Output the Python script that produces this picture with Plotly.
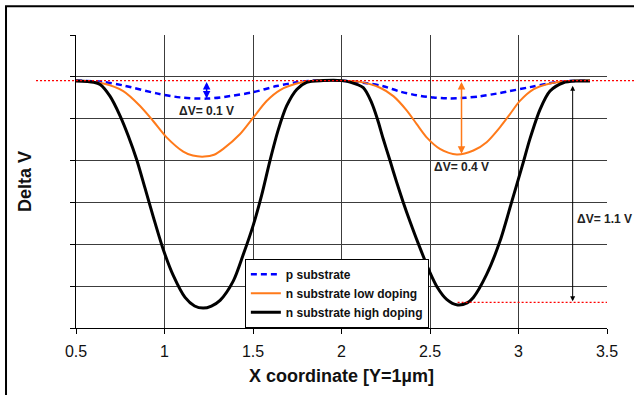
import plotly.graph_objects as go

# ---------------- data ----------------
x_p = [0.50, 0.654, 0.767, 0.956, 1.088, 1.238, 1.370, 1.502, 1.634, 1.747, 1.840,
       1.990, 2.142, 2.236, 2.330, 2.425, 2.520, 2.613, 2.700, 2.782, 2.876, 2.933,
       3.065, 3.159, 3.250, 3.385]
y_p = [-0.018, -0.024, -0.041, -0.079, -0.098, -0.104, -0.092, -0.073, -0.044, -0.026, -0.018,
       -0.018, -0.030, -0.045, -0.070, -0.088, -0.099, -0.103, -0.100, -0.093, -0.080, -0.071,
       -0.049, -0.033, -0.022, -0.018]

x_low = [0.50, 0.654, 0.767, 0.862, 0.937, 1.012, 1.106, 1.160, 1.225, 1.280, 1.332, 1.427,
         1.502, 1.577, 1.653, 1.747, 1.860, 1.990, 2.105, 2.218, 2.293, 2.368, 2.425, 2.481,
         2.556, 2.651, 2.745, 2.820, 2.895, 2.952, 3.008, 3.084, 3.178, 3.272, 3.404]
y_low = [-0.018, -0.032, -0.068, -0.139, -0.212, -0.289, -0.357, -0.376, -0.381, -0.372, -0.344, -0.273,
         -0.194, -0.115, -0.063, -0.032, -0.018, -0.018, -0.024, -0.052, -0.092, -0.160, -0.226, -0.289,
         -0.344, -0.371, -0.352, -0.312, -0.241, -0.178, -0.115, -0.060, -0.032, -0.021, -0.018]

x_high = [0.50, 0.60, 0.636, 0.692, 0.749, 0.795, 0.843, 0.890, 0.937, 0.993, 1.050, 1.116,
          1.170, 1.219, 1.265, 1.314, 1.389, 1.445, 1.502, 1.549, 1.596, 1.643, 1.690, 1.747,
          1.803, 1.897, 2.000, 2.048, 2.123, 2.170, 2.202, 2.236, 2.274, 2.311, 2.349, 2.387,
          2.434, 2.500, 2.541, 2.594, 2.656, 2.710, 2.745, 2.820, 2.895, 2.962, 3.022, 3.065,
          3.122, 3.178, 3.253, 3.329, 3.404]
y_high = [-0.020, -0.026, -0.036, -0.092, -0.186, -0.281, -0.396, -0.532, -0.670, -0.825, -0.950, -1.054,
          -1.095, -1.105, -1.095, -1.068, -0.975, -0.849, -0.707, -0.565, -0.400, -0.252, -0.139, -0.060,
          -0.026, -0.018, -0.018, -0.025, -0.052, -0.123, -0.199, -0.297, -0.400, -0.502, -0.600, -0.691,
          -0.797, -0.935, -1.005, -1.063, -1.090, -1.080, -1.054, -0.944, -0.786, -0.596, -0.423, -0.295,
          -0.155, -0.068, -0.028, -0.020, -0.020]

names = ["p substrate", "n substrate low doping", "n substrate high doping"]
x_ticks = [0.5, 1, 1.5, 2, 2.5, 3, 3.5]
x_ticklabels = ["0.5", "1", "1.5", "2", "2.5", "3", "3.5"]

baseline = -0.018          # plateau level (top red dotted line)
high_min = -1.078          # level of lower red dotted line
high_min_x = 2.656

# delta-V markers: (x, top, bottom, label)
dv_p = (1.238, -0.018, -0.104, "ΔV= 0.1 V")
dv_low = (2.678, -0.018, -0.368, "ΔV= 0.4 V")
dv_high = (3.306, -0.035, -1.072, "ΔV= 1.1 V")

FONT = "Liberation Sans, Arial, sans-serif"
BLUE = "#0000FF"
ORANGE = "#FF7A1A"
BLACK = "#000000"
GRID = "#3c3c3c"

fig = go.Figure()
fig.add_trace(go.Scatter(x=x_p, y=y_p, name=names[0], mode="lines",
                         line=dict(color=BLUE, width=2.5, dash="6px,4px", shape="spline", smoothing=0.8)))
fig.add_trace(go.Scatter(x=x_low, y=y_low, name=names[1], mode="lines",
                         line=dict(color=ORANGE, width=2, shape="spline", smoothing=0.8)))
fig.add_trace(go.Scatter(x=x_high, y=y_high, name=names[2], mode="lines",
                         line=dict(color=BLACK, width=3, shape="spline", smoothing=0.8)))

# reference lines
fig.add_shape(type="line", xref="paper", yref="y", x0=-0.0753, x1=1.06, y0=baseline, y1=baseline,
              line=dict(color="red", width=1.2, dash="2px,2px"))
fig.add_shape(type="line", xref="x", yref="y", x0=high_min_x, x1=3.5, y0=high_min, y1=high_min,
              line=dict(color="red", width=1.2, dash="2px,2px"))

# outer frame
fig.add_shape(type="rect", xref="paper", yref="paper", x0=-0.1318, x1=1.3, y0=-0.4, y1=1.0983,
              line=dict(color="black", width=2), layer="above")

annos = []
for (xv, top, bot, label), col, w in [
        (dv_p, BLUE, 1.5),
        (dv_low, ORANGE, 1.5),
        (dv_high, BLACK, 1)]:
    annos.append(dict(x=xv, y=bot, ax=xv, ay=top, xref="x", yref="y", axref="x", ayref="y",
                      text="", showarrow=True, arrowside="end+start", arrowhead=2,
                      arrowsize=1, arrowwidth=w, arrowcolor=col, standoff=0, startstandoff=0))

lab_font = dict(family=FONT, size=12, color="#222", weight="bold")
annos.append(dict(x=dv_p[0], y=-0.164, xref="x", yref="y", text=dv_p[3], showarrow=False, font=lab_font))
annos.append(dict(x=dv_low[0], y=-0.429, xref="x", yref="y", text=dv_low[3], showarrow=False, font=lab_font))
annos.append(dict(x=3.319, y=-0.68, xref="x", yref="y", xanchor="left", text=dv_high[3],
                  showarrow=False, font=lab_font))

fig.update_layout(
    width=634, height=395,
    margin=dict(l=76, r=27, t=35, b=65),
    paper_bgcolor="white", plot_bgcolor="white",
    font=dict(family=FONT, color="black"),
    showlegend=True,
    legend=dict(x=0.318, y=0.1186, xanchor="left", yanchor="middle",
                bgcolor="white", bordercolor="black", borderwidth=1,
                font=dict(family=FONT, size=12, color="#111", weight="bold"),
                tracegroupgap=0, itemwidth=30),
    annotations=annos,
    xaxis=dict(range=[0.5, 3.5], tickvals=x_ticks, ticktext=x_ticklabels,
               showgrid=True, gridcolor=GRID, gridwidth=1,
               showline=True, linecolor="black", linewidth=1,
               ticks="outside", ticklen=5, tickcolor="black", ticklabelstandoff=4,
               tickfont=dict(family=FONT, size=16, color="#111"),
               zeroline=False,
               title=dict(text="X coordinate [Y=1µm]", standoff=10,
                          font=dict(family=FONT, size=18, color="#111", weight="bold"))),
    yaxis=dict(range=[-1.2, 0.2], dtick=0.2, tick0=0,
               showgrid=True, gridcolor=GRID, gridwidth=1,
               showline=True, linecolor="black", linewidth=1,
               ticks="outside", ticklen=5, tickcolor="black",
               showticklabels=False, zeroline=False,
               title=dict(text="Delta V", standoff=33,
                          font=dict(family=FONT, size=18, color="#111", weight="bold"))),
)

fig.write_html("out.html")
